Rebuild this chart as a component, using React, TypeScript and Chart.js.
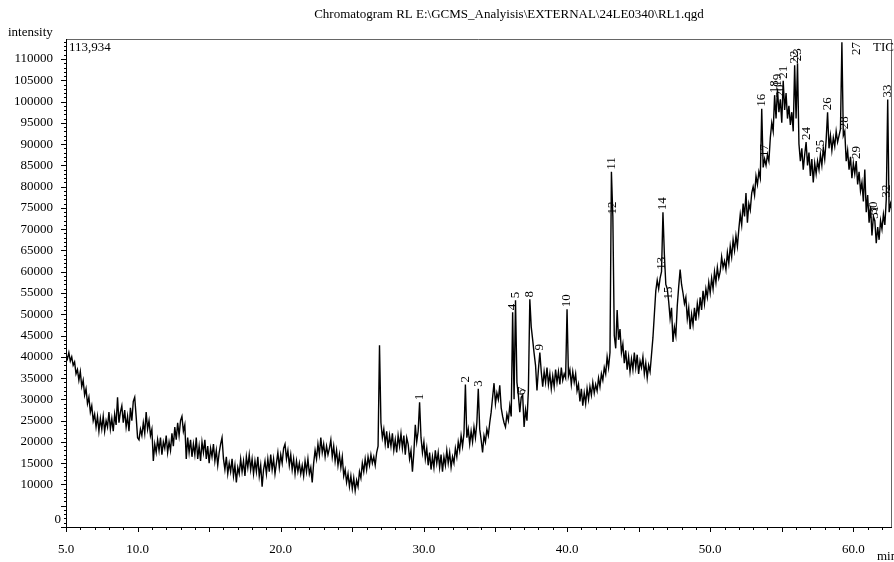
import React, { useEffect, useRef } from 'react';
import { Chart, registerables } from 'chart.js';

Chart.register(...registerables);

const FONT = '"Liberation Serif", "Times New Roman", serif';

const TITLE = 'Chromatogram RL E:\\GCMS_Analyisis\\EXTERNAL\\24LE0340\\RL1.qgd';
const Y_TITLE = 'intensity';
const X_TITLE = 'min';
const MAX_LABEL = '113,934';
const TRACE_NAME = 'TIC';
const ZERO_LABEL = '0';

// scan grid of the trace (retention time, min)
const START_MIN = 5.0;
const STEP_MIN = 0.1;

// TIC intensities, one value every 0.1 min
const tic05to10 = [
  40500, 39500, 41000, 39000, 40000, 38000, 38800, 36000, 37000, 34500,
  36500, 33000, 34500, 31000, 32500, 29000, 30500, 27000, 28500, 25000,
  26500, 23500, 26000, 22500, 25500, 23000, 26000, 22500, 25000, 23500,
  27000, 23000, 25500, 22500, 26500, 24000, 30500, 24500, 27000, 28500,
  24500, 27500, 23500, 26000, 22500, 28000, 25000, 29500, 30500, 26000,
];
const tic10to20 = [
  21000, 20500, 23000, 21500, 24500, 22000, 27000, 23000, 25000, 21500,
  23000, 15500, 19500, 17500, 20500, 18000, 21000, 17000, 20000, 18500,
  21500, 17500, 20000, 18000, 22000, 19000, 23500, 20500, 24500, 21500,
  25000, 26000, 22500, 24000, 16000, 21000, 17500, 20500, 16500, 19500,
  17000, 21000, 16000, 19000, 15500, 20000, 17500, 20500, 16000, 19000,
  15000, 18500, 16500, 19500, 15500, 18000, 14500, 17500, 19500, 21000,
  16000, 13500, 16500, 12500, 15000, 13000, 16000, 12000, 14500, 10500,
  14000, 12500, 16000, 13000, 15500, 12000, 16500, 14000, 17000, 13500,
  16000, 12500, 15500, 13000, 16500, 12000, 14500, 9500, 13500, 15500,
  12500, 16000, 13000, 17000, 13500, 16000, 12500, 15000, 17500, 14000,
];
const tic20to30 = [
  17000, 15000, 18500, 19500, 16000, 18000, 14500, 17000, 13500, 16000,
  12500, 15500, 13000, 15000, 12500, 14500, 12000, 15500, 13000, 16000,
  12500, 14000, 10500, 15000, 18000, 16000, 19500, 17000, 21000, 17500,
  19500, 16500, 19000, 17000, 18500, 20500, 16500, 19000, 15500, 18000,
  14500, 17000, 14000, 16500, 12000, 13500, 10500, 12500, 9500, 12000,
  9000, 11500, 8500, 11000, 9500, 13000, 11500, 15000, 13000, 16000,
  13500, 16500, 14500, 17000, 15000, 16500, 14500, 17500, 19000, 42700,
  24500, 21000, 23000, 19500, 22500, 18500, 21500, 19000, 22000, 18000,
  20500, 17500, 21500, 19000, 22000, 18500, 21500, 17000, 21000, 19500,
  16000, 18000, 13000, 17500, 24000, 20000, 22500, 29300, 21000, 17500,
];
const tic30to40 = [
  20000, 16000, 18500, 14500, 17500, 13500, 16500, 14000, 18000, 15000,
  17500, 14000, 17000, 13000, 16500, 14500, 18000, 15000, 17500, 14000,
  16500, 15000, 18500, 16500, 20000, 18000, 21500, 19000, 22000, 33500,
  21000, 23000, 19500, 22500, 20000, 23500, 21000, 24500, 32500, 23000,
  20500, 17500, 21500, 20000, 23000, 21500, 24500, 27000, 30500, 33800,
  29000, 31500, 30000, 33300, 28000, 26000, 24500, 23500, 26500, 25000,
  28500, 26000, 50500, 30000, 53300, 34000, 31000, 27000, 30500, 31000,
  23500, 27500, 25000, 32000, 53500, 47000, 44000, 40800, 38000, 32100,
  37000, 41000, 36500, 33000, 36500, 34000, 37500, 33500, 36000, 32500,
  35500, 33000, 37000, 34000, 36500, 33500, 37500, 34500, 36000, 35000,
];
const tic40to50 = [
  51200, 35500, 37000, 33500, 36500, 34000, 36000, 32000, 33500, 29500,
  32500, 28500, 31500, 29000, 32500, 30000, 33000, 31000, 34000, 31500,
  33500, 32000, 35000, 33000, 36000, 34500, 37500, 36000, 40000, 37500,
  41000, 83500, 73000, 45000, 42000, 51000, 44000, 46500, 41000, 43000,
  38500, 41500, 37000, 40000, 36500, 39500, 37000, 41000, 37500, 40500,
  36000, 39000, 37500, 40000, 36000, 38500, 35000, 38000, 36500, 40500,
  44500, 50000, 55500, 58000, 56000, 58500, 60000, 74000, 64000, 57000,
  56000, 53000, 49000, 51500, 43500, 47000, 45000, 52000, 56500, 60500,
  57000, 55000, 52500, 54000, 49000, 51500, 46500, 50000, 47500, 51500,
  48500, 52500, 50000, 54000, 51000, 55500, 52500, 56000, 54000, 57500,
];
const tic50to60 = [
  55000, 58500, 56000, 60000, 57500, 61000, 58500, 60000, 63500, 61000,
  62500, 60500, 64500, 62000, 66000, 63500, 67500, 65000, 68500, 66000,
  70000, 73500, 71000, 76000, 73000, 78500, 71500, 76000, 74500, 78500,
  80000, 78000, 82500, 80500, 83500, 82000, 98300, 84500, 86500, 85000,
  87500, 86000, 91500, 95000, 93000, 101500, 96000, 103000, 97500, 100500,
  95000, 104900, 98000, 102000, 96000, 99000, 94500, 97500, 93000, 108500,
  96000, 109000, 90000, 86000, 89000, 84000, 87500, 90500, 85000, 88000,
  82500, 86500, 81000, 85500, 83000, 86000, 84000, 87500, 85000, 89000,
  86500, 91000, 97500, 89000, 92000, 88500, 91500, 89500, 93000, 90500,
  92000, 93500, 113934, 92000, 93000, 86000, 88500, 84000, 87000, 82000,
];
const tic60to63 = [
  85500, 83000, 86000, 80500, 83500, 79000, 81000, 76500, 84000, 74000,
  78000, 71500, 75500, 68500, 73000, 72000, 66700, 70500, 67500, 72000,
  70000, 73500, 71000, 77000, 100500, 74000, 76000, 74500,
];

const intensities = [
  ...tic05to10, ...tic10to20, ...tic20to30, ...tic30to40,
  ...tic40to50, ...tic50to60, ...tic60to63,
];

// peak annotations
const peakNumbers = [
  '1', '2', '3', '4', '5', '6', '7', '8', '9', '10', '11', '12', '13', '14', '15', '16', '17',
  '18', '19', '20', '21', '22', '23', '24', '25', '26', '27', '28', '29', '30', '31', '32', '33',
];
const peakTimes = [
  29.7, 32.9, 33.8, 36.2, 36.4, 36.8, 36.9, 37.4, 38.1, 40.0, 43.1, 43.2, 46.6, 46.7, 47.1, 53.6, 53.8,
  54.5, 54.7, 54.9, 55.1, 55.9, 56.1, 56.7, 57.7, 58.2, 59.2, 59.4, 60.2, 61.4, 61.5, 62.3, 62.4,
];

// axes
const X_MIN = 5.0;
const X_MAX = 62.7;
const Y_MIN = 0;
const Y_MAX = 114700;
const xTickValues = Array.from({ length: 58 }, (_, i) => 5 + i);
const xLabelledTicks = [5, 10, 20, 30, 40, 50, 60];
const yTickValues = Array.from({ length: 115 }, (_, i) => i * 1000);
const yHiddenLabels = [0, 5000];

const decorations = {
  id: 'decorations',
  afterDraw(chart: any) {
    const { ctx, chartArea: a, scales } = chart;
    const xs = scales.x;
    const ys = scales.y;
    ctx.save();

    // frame
    ctx.lineWidth = 1;
    ctx.strokeStyle = '#666';
    ctx.beginPath();
    ctx.moveTo(a.left, a.top + 0.5);
    ctx.lineTo(a.right - 0.5, a.top + 0.5);
    ctx.lineTo(a.right - 0.5, a.bottom);
    ctx.stroke();
    ctx.strokeStyle = '#000';
    ctx.beginPath();
    ctx.moveTo(a.left + 0.5, a.top);
    ctx.lineTo(a.left + 0.5, a.bottom + 0.5);
    ctx.lineTo(a.right, a.bottom + 0.5);
    ctx.stroke();

    // tick marks
    ctx.beginPath();
    yTickValues.forEach((v) => {
      const y = Math.round(ys.getPixelForValue(v)) + 0.5;
      const len = v % 5000 === 0 ? 5 : 2;
      ctx.moveTo(a.left, y);
      ctx.lineTo(a.left - len, y);
    });
    xTickValues.forEach((v) => {
      const x = Math.round(xs.getPixelForValue(v)) + 0.5;
      const len = v % 5 === 0 ? 5 : 3;
      ctx.moveTo(x, a.bottom);
      ctx.lineTo(x, a.bottom + len);
    });
    ctx.stroke();

    // peak numbers
    ctx.fillStyle = '#000';
    ctx.font = `13px ${FONT}`;
    peakNumbers.forEach((num, i) => {
      const t = peakTimes[i];
      const idx = Math.round((t - START_MIN) / STEP_MIN);
      const v = intensities[idx];
      const px = xs.getPixelForValue(t);
      let py = ys.getPixelForValue(v) - 2;
      const w = ctx.measureText(num).width;
      let ax = px;
      if (py - w < a.top + 1) {
        ax = px + 15;
        py = a.top + w + 3;
      }
      ctx.save();
      ctx.translate(ax, py);
      ctx.rotate(-Math.PI / 2);
      ctx.textAlign = 'left';
      ctx.textBaseline = 'middle';
      ctx.fillText(num, 0, 0);
      ctx.restore();
    });

    // texts
    ctx.font = `13px ${FONT}`;
    ctx.textBaseline = 'middle';
    ctx.textAlign = 'center';
    ctx.fillText(TITLE, chart.width / 2 + 62, 15);
    ctx.textAlign = 'right';
    ctx.fillText(ZERO_LABEL, a.left - 5, ys.getPixelForValue(0) - 7);
    ctx.textAlign = 'left';
    ctx.fillText(Y_TITLE, 8, 33);
    ctx.fillText(MAX_LABEL, a.left + 3, a.top + 9);
    ctx.fillText(TRACE_NAME, a.right - 19, a.top + 9);
    ctx.fillText(X_TITLE, a.right - 15, 557);

    ctx.restore();
  },
};

export default function App() {
  const canvasRef = useRef<HTMLCanvasElement | null>(null);

  useEffect(() => {
    const canvas = canvasRef.current;
    if (!canvas) return;
    const points = intensities.map((v, i) => ({ x: +(START_MIN + i * STEP_MIN).toFixed(1), y: v }));
    const chart = new Chart(canvas, {
      type: 'line',
      data: {
        datasets: [
          {
            label: TRACE_NAME,
            data: points,
            borderColor: '#000',
            borderWidth: 1.4,
            pointRadius: 0,
            tension: 0,
            fill: false,
          },
        ],
      },
      options: {
        animation: false,
        responsive: false,
        maintainAspectRatio: false,
        events: [],
        layout: { padding: { top: 39, right: 2, left: 0, bottom: 0 } },
        plugins: {
          legend: { display: false },
          tooltip: { enabled: false },
          title: { display: false },
        },
        scales: {
          x: {
            type: 'linear',
            min: X_MIN,
            max: X_MAX,
            grid: { display: false },
            border: { display: false },
            afterBuildTicks: (s: any) => {
              s.ticks = xTickValues.map((v) => ({ value: v }));
            },
            afterFit: (s: any) => {
              s.height = 35;
            },
            ticks: {
              autoSkip: false,
              maxRotation: 0,
              padding: 7,
              color: '#000',
              font: { family: FONT, size: 13 },
              callback: (v: any) => (xLabelledTicks.includes(Number(v)) ? Number(v).toFixed(1) : ''),
            },
          },
          y: {
            type: 'linear',
            min: Y_MIN,
            max: Y_MAX,
            grid: { display: false },
            border: { display: false },
            afterBuildTicks: (s: any) => {
              s.ticks = yTickValues.map((v) => ({ value: v }));
            },
            afterFit: (s: any) => {
              s.width = 66;
            },
            ticks: {
              autoSkip: false,
              padding: 5,
              color: '#000',
              font: { family: FONT, size: 13 },
              callback: (v: any) => {
                const n = Number(v);
                return n % 5000 === 0 && !yHiddenLabels.includes(n) ? String(n) : '';
              },
            },
          },
        },
      },
      plugins: [decorations],
    });
    return () => chart.destroy();
  }, []);

  return (
    <div style={{ position: 'absolute', left: 0, top: 0, width: 894, height: 562, background: '#fff' }}>
      <canvas ref={canvasRef} width={894} height={562} />
    </div>
  );
}
